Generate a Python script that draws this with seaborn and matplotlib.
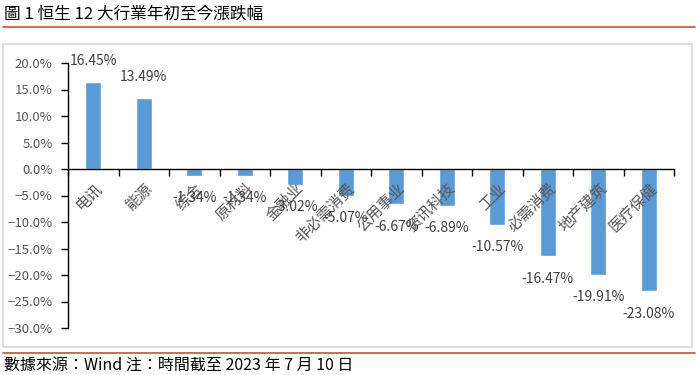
import matplotlib
matplotlib.use("Agg")
import matplotlib.pyplot as plt
import seaborn as sns
import pandas as pd
from matplotlib.patches import Rectangle
from matplotlib.lines import Line2D
from matplotlib.ticker import FixedLocator, PercentFormatter

categories = ["电讯", "能源", "综合", "原材料", "金融业", "非必需消费",
              "公用事业", "资讯科技", "工业", "必需消费", "地产建筑", "医疗保健"]
values = [16.45, 13.49, -1.34, -1.34, -3.02, -5.07,
          -6.67, -6.89, -10.57, -16.47, -19.91, -23.08]
yticks = [20, 15, 10, 5, 0, -5, -10, -15, -20, -25, -30]
title = "圖 1 恒生 12 大行業年初至今漲跌幅"
footer = "數據來源：Wind 注：時間截至 2023 年 7 月 10 日"

sns.set_style("white")
plt.rcParams['font.family'] = ['Noto Sans CJK SC', 'DejaVu Sans']
SC = ['Noto Sans CJK SC', 'DejaVu Sans']
TC = ['Noto Sans CJK TC', 'Noto Sans CJK SC', 'DejaVu Sans']

W, H = 696, 375
fig = plt.figure(figsize=(W / 100, H / 100), dpi=100)

def fx(px):
    return px / W

def fy(py):
    return 1 - py / H

ax = fig.add_axes([fx(68), fy(328), fx(674) - fx(68), fy(63) - fy(328)])
df = pd.DataFrame({"cat": categories, "val": values})
sns.barplot(data=df, x="cat", y="val", color="#5B9BD5", width=0.32,
            saturation=1, ax=ax)

ax.set_xlim(-0.5, len(categories) - 0.5)
ax.set_ylim(-30, 20)
ax.set_xlabel("")
ax.set_ylabel("")
ax.yaxis.set_major_locator(FixedLocator(yticks))
ax.yaxis.set_major_formatter(PercentFormatter(decimals=1))
ax.tick_params(axis="y", left=True, direction="out", length=5, width=1,
               color="black", labelsize=9.5, labelcolor="#595959", pad=6)

for s in ["top", "right"]:
    ax.spines[s].set_visible(False)
ax.spines["left"].set_color("black")
ax.spines["left"].set_linewidth(1)
ax.spines["bottom"].set_position(("data", 0))
ax.spines["bottom"].set_color("black")
ax.spines["bottom"].set_linewidth(1)
ax.spines["bottom"].set_zorder(4)

ax.set_xticks(range(len(categories)))
ax.set_xticklabels(categories, rotation=45, ha="right", rotation_mode="anchor",
                   fontsize=11, color="#595959", family=SC)
ax.tick_params(axis="x", which="major", bottom=True, length=0, pad=8)
ax.set_xticks([i - 0.5 for i in range(len(categories) + 1)], minor=True)
ax.tick_params(axis="x", which="minor", bottom=True, direction="out", length=5,
               width=1, color="black")
ax.xaxis.set_zorder(4)

for i, v in enumerate(values):
    off = 15 if v >= 0 else -16
    ax.annotate(f"{v:.2f}%", xy=(i, v), xytext=(0, off), textcoords="offset points",
                ha="center", va="center", fontsize=10, color="#404040",
                annotation_clip=False, zorder=5)

# frame, title and footer
fig.add_artist(Rectangle((fx(3), fy(347)), fx(692) - fx(3), fy(44) - fy(347),
                         transform=fig.transFigure, fill=False,
                         edgecolor="#D9D9D9", linewidth=1.2))
fig.add_artist(Line2D([fx(3), fx(695)], [fy(27), fy(27)], transform=fig.transFigure,
                      color="#C0562E", linewidth=1.2))
fig.add_artist(Line2D([fx(3), fx(695)], [fy(353), fy(353)], transform=fig.transFigure,
                      color="#C0562E", linewidth=1.2))
fig.text(fx(4), fy(14), title, fontsize=12, color="black", ha="left", va="center",
         family=TC)
fig.text(fx(4), fy(365), footer, fontsize=11.5, color="black", ha="left", va="center",
         family=TC)

fig.savefig("out.png", dpi=100)
